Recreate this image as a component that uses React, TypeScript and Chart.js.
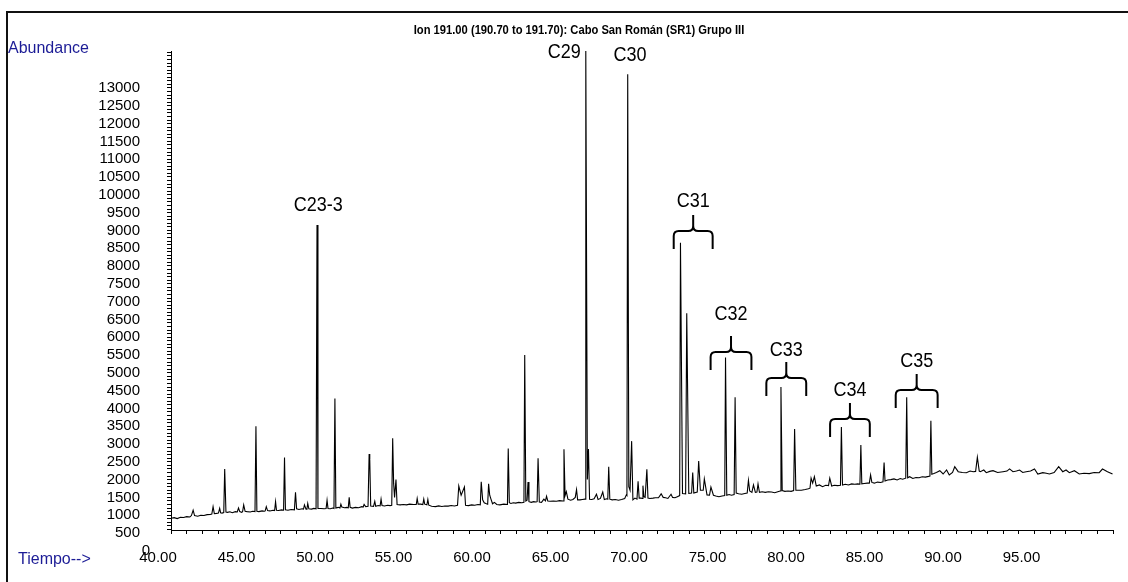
import { useEffect, useRef } from 'react';
import { Chart, registerables } from 'chart.js';

Chart.register(...registerables);

const TITLE = 'Ion 191.00 (190.70 to 191.70): Cabo San Román (SR1) Grupo III';

// Retention time (min) / abundance, in four segments
const segATimes = [40.00, 40.20, 40.40, 40.60, 40.80, 41.00, 41.20, 41.30, 41.41, 41.50, 41.70, 41.90, 42.10, 42.30, 42.50, 42.60, 42.68, 42.76, 42.90, 43.02, 43.10, 43.16, 43.25, 43.36, 43.42, 43.50, 43.60, 43.75, 43.90, 44.10, 44.22, 44.30, 44.38, 44.50, 44.56, 44.63, 44.72, 44.85, 45.05, 45.20, 45.35, 45.41, 45.47, 45.60, 45.80, 45.95, 46.00, 46.07, 46.15, 46.30, 46.50, 46.60, 46.66, 46.72, 46.85, 47.05, 47.17, 47.23, 47.29, 47.45, 47.65, 47.86, 47.93, 48.00, 48.15, 48.35, 48.44, 48.50, 48.60, 48.66, 48.71, 48.78, 48.95, 49.10, 49.24, 49.30, 49.36, 49.55, 49.75, 49.88, 49.94, 50.00, 50.15, 50.30, 50.38, 50.44, 50.50, 50.65, 50.76, 50.82, 50.88, 51.05, 51.20, 51.29, 51.35, 51.41, 51.55, 51.75, 51.95, 52.15, 52.24, 52.30, 52.40, 52.55, 52.62, 52.66, 52.72, 52.90, 52.98, 53.04, 53.20, 53.32, 53.38, 53.44, 53.60, 53.80, 53.95, 54.06, 54.12, 54.18, 54.24, 54.33, 54.40, 54.60, 54.80, 55.00, 55.20, 55.45, 55.62, 55.68, 55.74, 55.90, 56.04, 56.10, 56.16, 56.30, 56.36, 56.42];
const segAValues = [913, 930, 905, 940, 935, 960, 950, 990, 1140, 990, 970, 1000, 990, 1015, 1020, 1030, 1240, 1045, 1050, 1060, 1190, 1070, 1060, 1075, 2300, 1090, 1080, 1095, 1070, 1100, 1090, 1200, 1100, 1080, 1100, 1290, 1110, 1100, 1090, 1110, 1100, 3500, 1110, 1100, 1120, 1110, 1120, 1240, 1130, 1120, 1140, 1130, 1380, 1140, 1130, 1150, 1140, 2620, 1150, 1140, 1160, 1150, 1640, 1180, 1160, 1180, 1170, 1290, 1170, 1180, 1330, 1180, 1170, 1190, 1180, 9150, 1190, 1190, 1180, 1190, 1420, 1190, 1180, 1200, 1190, 4280, 1200, 1220, 1200, 1310, 1230, 1210, 1220, 1210, 1500, 1220, 1200, 1220, 1210, 1240, 1230, 1300, 1240, 1250, 2720, 2560, 1260, 1250, 1390, 1250, 1270, 1260, 1450, 1270, 1260, 1280, 1270, 1280, 3160, 1900, 1500, 2000, 1300, 1290, 1300, 1290, 1310, 1300, 1300, 1470, 1310, 1310, 1300, 1450, 1310, 1290, 1440, 1280];

const segBTimes = [56.60, 56.85, 57.05, 57.25, 57.45, 57.65, 57.85, 58.05, 58.25, 58.33, 58.48, 58.69, 58.76, 58.95, 59.15, 59.35, 59.55, 59.70, 59.76, 59.85, 59.95, 60.05, 60.17, 60.23, 60.30, 60.38, 60.48, 60.60, 60.75, 60.95, 61.20, 61.43, 61.48, 61.55, 61.65, 61.80, 61.95, 62.15, 62.35, 62.48, 62.53, 62.60, 62.68, 62.74, 62.80, 62.95, 63.10, 63.25, 63.32, 63.38, 63.46, 63.60, 63.75, 63.85, 63.92, 64.00, 64.15, 64.35, 64.55, 64.75, 64.97, 65.03, 65.10, 65.18, 65.28, 65.45, 65.60, 65.75, 65.83, 65.90, 66.05, 66.20, 66.37, 66.42, 66.52, 66.59, 66.66, 66.80, 66.95, 67.10, 67.20, 67.35, 67.50, 67.60, 67.75, 67.82, 67.88, 67.95, 68.10, 68.30, 68.50, 68.70, 68.90, 69.00, 69.04, 69.09, 69.16, 69.24, 69.34, 69.42, 69.55, 69.68, 69.75, 69.82, 69.95, 70.00, 70.06, 70.12, 70.20, 70.25, 70.31, 70.38, 70.50, 70.70, 70.85, 71.05, 71.22, 71.35, 71.50, 71.65, 71.85, 71.95];
const segBValues = [1250, 1240, 1260, 1245, 1260, 1255, 1270, 1260, 1275, 1820, 1560, 1790, 1280, 1270, 1290, 1280, 1300, 1290, 1940, 1430, 1350, 1330, 1310, 1880, 1560, 1450, 1320, 1360, 1300, 1290, 1310, 1300, 2870, 1350, 1330, 1350, 1340, 1360, 1350, 1360, 5500, 1400, 1420, 1930, 1380, 1360, 1380, 1370, 1380, 2600, 1370, 1360, 1450, 1400, 1530, 1400, 1390, 1400, 1390, 1410, 1400, 2850, 1550, 1660, 1450, 1420, 1440, 1500, 1720, 1430, 1430, 1440, 1450, 14050, 2000, 2860, 1450, 1440, 1460, 1590, 1440, 1470, 1650, 1440, 1460, 1450, 2360, 1450, 1430, 1440, 1420, 1440, 1470, 1570, 1550, 13385, 1800, 1700, 3080, 1430, 1480, 1450, 1950, 1480, 1480, 1470, 1830, 1520, 1500, 1500, 2290, 1480, 1470, 1480, 1490, 1490, 1600, 1500, 1490, 1470, 1590, 1500];

const segCTimes = [72.10, 72.25, 72.40, 72.45, 72.58, 72.78, 72.85, 72.98, 73.16, 73.23, 73.30, 73.52, 73.61, 73.72, 73.90, 73.97, 74.14, 74.30, 74.39, 74.55, 74.70, 74.90, 75.10, 75.27, 75.32, 75.40, 75.55, 75.70, 75.87, 75.93, 76.00, 76.15, 76.35, 76.55, 76.70, 76.78, 76.86, 77.00, 77.10, 77.22, 77.32, 77.39, 77.48, 77.65, 77.85, 78.05, 78.25, 78.45, 78.65, 78.80, 78.85, 78.93, 79.10, 79.30, 79.50, 79.66, 79.72, 79.80, 79.95, 80.15, 80.40, 80.60, 80.70, 80.77, 80.87, 80.98, 81.10, 81.30, 81.50, 81.70, 81.88, 81.96, 82.08, 82.25, 82.45, 82.64, 82.70, 82.77, 82.95, 83.15, 83.35, 83.55, 83.75, 83.88, 83.94, 84.00, 84.15, 84.35, 84.48, 84.56, 84.64, 84.80, 85.00, 85.20, 85.35, 85.42, 85.48];
const segCValues = [1490, 1520, 1550, 8650, 1610, 1600, 6670, 1610, 1620, 2200, 1620, 1650, 2520, 1700, 1700, 2020, 1570, 1560, 1790, 1560, 1540, 1520, 1540, 1550, 5430, 1560, 1580, 1560, 1580, 4310, 1620, 1600, 1590, 1610, 1620, 1980, 1680, 1640, 1850, 1640, 1650, 1880, 1640, 1660, 1640, 1660, 1650, 1630, 1660, 1680, 4600, 1690, 1670, 1680, 1670, 1690, 3420, 1700, 1700, 1700, 1720, 1740, 1760, 2040, 1900, 2080, 1820, 1850, 1800, 1840, 1830, 2040, 1820, 1840, 1830, 1840, 3480, 1850, 1870, 1850, 1880, 1870, 1880, 1870, 2970, 1880, 1890, 1900, 1900, 2130, 1920, 1900, 1930, 1920, 1940, 2480, 1960];

const segDTimes = [85.65, 85.85, 86.05, 86.25, 86.45, 86.60, 86.80, 86.86, 86.92, 87.05, 87.25, 87.45, 87.65, 87.85, 88.05, 88.25, 88.34, 88.40, 88.46, 88.59, 88.75, 88.97, 89.18, 89.40, 89.57, 89.78, 89.92, 90.14, 90.40, 90.66, 90.90, 91.09, 91.25, 91.36, 91.48, 91.55, 91.77, 91.93, 92.15, 92.36, 92.65, 92.99, 93.25, 93.41, 93.63, 93.85, 94.05, 94.25, 94.47, 94.75, 95.00, 95.21, 95.53, 95.75, 95.95, 96.25, 96.54, 96.80, 97.01, 97.22, 97.54, 97.85, 98.15, 98.49, 98.80, 99.12, 99.33, 99.65, 99.97];
const segDValues = [1990, 2000, 2020, 1990, 2030, 2010, 2040, 4310, 2050, 2080, 2030, 2060, 2050, 2080, 2070, 2090, 2100, 3650, 2150, 2170, 2200, 2250, 2157, 2269, 2129, 2200, 2362, 2222, 2200, 2194, 2240, 2222, 2230, 2627, 2240, 2222, 2269, 2194, 2230, 2250, 2200, 2222, 2240, 2300, 2222, 2240, 2269, 2200, 2222, 2240, 2297, 2157, 2194, 2180, 2157, 2200, 2362, 2222, 2269, 2194, 2250, 2157, 2180, 2169, 2200, 2194, 2297, 2222, 2157];

// Peak labels
const peakLabels = ['C23-3', 'C29', 'C30'];
const peakLabelTimes = [49.38, 65.05, 69.23];
const peakLabelValues = [9713, 14010, 13899];

// Braced groups
const braceLabels = ['C31', 'C32', 'C33', 'C34', 'C35'];
const braceStarts = [72.02, 74.37, 77.92, 81.98, 86.16];
const braceEnds = [74.50, 76.97, 80.46, 84.51, 88.83];
const braceValues = [8983, 5584, 4854, 3702, 4517];
const braceLabelValues = [9798, 6624, 5640, 4494, 5315];

// Axes
const xMin = 40;
const xMax = 100;
const xLabelledTicks = [40, 45, 50, 55, 60, 65, 70, 75, 80, 85, 90, 95];
const yMin = 584;
const yMax = 14039;
const yLabelledTicks = [500, 1000, 1500, 2000, 2500, 3000, 3500, 4000, 4500, 5000, 5500, 6000, 6500, 7000, 7500, 8000, 8500, 9000, 9500, 10000, 10500, 11000, 11500, 12000, 12500, 13000];
const yZeroLabel = '0';

const FONT = '"Liberation Sans", Arial, Helvetica, sans-serif';

function drawNarrow(ctx: CanvasRenderingContext2D, text: string, x: number, y: number, font: string, sx: number) {
  ctx.save();
  ctx.font = font;
  ctx.translate(x, y);
  ctx.scale(sx, 1);
  ctx.textAlign = 'center';
  ctx.textBaseline = 'middle';
  ctx.fillText(text, 0, 0);
  ctx.restore();
}

function drawBrace(ctx: CanvasRenderingContext2D, xl: number, xr: number, yh: number) {
  const xc = (xl + xr) / 2;
  const drop = 18;
  const tip = 16;
  const r = 5;
  ctx.beginPath();
  ctx.moveTo(xl, yh + drop);
  ctx.lineTo(xl, yh + r);
  ctx.quadraticCurveTo(xl, yh, xl + r, yh);
  ctx.lineTo(xc - r, yh);
  ctx.quadraticCurveTo(xc, yh, xc, yh - r);
  ctx.lineTo(xc, yh - tip);
  ctx.moveTo(xc, yh - r);
  ctx.quadraticCurveTo(xc, yh, xc + r, yh);
  ctx.lineTo(xr - r, yh);
  ctx.quadraticCurveTo(xr, yh, xr, yh + r);
  ctx.lineTo(xr, yh + drop);
  ctx.stroke();
}

const annotate = {
  id: 'annotate',
  beforeDraw(chart: any) {
    const ctx = chart.ctx as CanvasRenderingContext2D;
    ctx.save();
    ctx.fillStyle = '#fff';
    ctx.fillRect(0, 0, chart.width, chart.height);
    ctx.strokeStyle = '#111';
    ctx.lineWidth = 2;
    ctx.beginPath();
    ctx.moveTo(7, chart.height);
    ctx.lineTo(7, 12);
    ctx.lineTo(chart.width, 12);
    ctx.stroke();
    ctx.restore();
  },
  afterDraw(chart: any) {
    const ctx = chart.ctx as CanvasRenderingContext2D;
    const x = chart.scales.x;
    const y = chart.scales.y;
    ctx.save();
    ctx.fillStyle = '#000';
    drawNarrow(ctx, TITLE, 579, 30, `bold 13px ${FONT}`, 0.86);

    // zero label of the abundance axis (sits below the time axis)
    ctx.font = `15px ${FONT}`;
    ctx.textAlign = 'center';
    ctx.textBaseline = 'middle';
    ctx.fillText(yZeroLabel, 146, y.getPixelForValue(0));

    ctx.fillStyle = '#1c1c96';
    ctx.font = `16px ${FONT}`;
    ctx.textAlign = 'left';
    ctx.textBaseline = 'alphabetic';
    ctx.fillText('Abundance', 8, 53);
    ctx.fillText('Tiempo-->', 18, 564);

    ctx.fillStyle = '#000';
    peakLabels.forEach((lab, i) => {
      drawNarrow(ctx, lab, x.getPixelForValue(peakLabelTimes[i]), y.getPixelForValue(peakLabelValues[i]), `20px ${FONT}`, 0.9);
    });

    ctx.strokeStyle = '#000';
    ctx.lineWidth = 2;
    braceLabels.forEach((lab, i) => {
      const xl = x.getPixelForValue(braceStarts[i]);
      const xr = x.getPixelForValue(braceEnds[i]);
      drawBrace(ctx, xl, xr, y.getPixelForValue(braceValues[i]));
      drawNarrow(ctx, lab, (xl + xr) / 2, y.getPixelForValue(braceLabelValues[i]), `20px ${FONT}`, 0.9);
    });
    ctx.restore();
  },
};

export default function App() {
  const ref = useRef<HTMLCanvasElement>(null);
  useEffect(() => {
    const times = [...segATimes, ...segBTimes, ...segCTimes, ...segDTimes];
    const values = [...segAValues, ...segBValues, ...segCValues, ...segDValues];
    const points = times.map((t, i) => ({ x: t, y: values[i] }));

    const xTicks: number[] = [];
    for (let v = xMin; v <= xMax; v += 1) xTicks.push(v);
    const yTicks: number[] = [500];
    for (let v = 600; v <= 14000; v += 100) yTicks.push(v);

    const chart = new Chart(ref.current as HTMLCanvasElement, {
      type: 'line',
      data: {
        datasets: [
          {
            data: points,
            borderColor: '#000',
            borderWidth: 1.1,
            pointRadius: 0,
            tension: 0,
            fill: false,
          },
        ],
      },
      options: {
        responsive: false,
        animation: false,
        devicePixelRatio: 1,
        layout: { padding: { left: 0, right: 11, top: 51, bottom: 0 } },
        plugins: {
          legend: { display: false },
          tooltip: { enabled: false },
          title: { display: false },
        },
        scales: {
          x: {
            type: 'linear',
            min: xMin,
            max: xMax,
            bounds: 'data',
            afterFit: (s: any) => {
              s.height = 52;
            },
            afterBuildTicks: (s: any) => {
              s.ticks = xTicks.map((v) => ({ value: v }));
            },
            grid: { drawOnChartArea: false, drawTicks: true, tickLength: 4, color: '#000', tickColor: '#000' },
            border: { display: true, color: '#000', width: 1 },
            ticks: {
              autoSkip: false,
              maxRotation: 0,
              minRotation: 0,
              labelOffset: -13,
              padding: 15,
              color: '#000',
              font: { family: FONT, size: 15 },
              callback: (v: any) => (xLabelledTicks.includes(Number(v)) ? Number(v).toFixed(2) : ''),
            },
          },
          y: {
            type: 'linear',
            min: yMin,
            max: yMax,
            bounds: 'data',
            afterFit: (s: any) => {
              s.width = 171;
            },
            afterBuildTicks: (s: any) => {
              s.ticks = yTicks.map((v) => ({ value: v }));
            },
            grid: {
              drawOnChartArea: false,
              drawTicks: true,
              tickLength: 4,
              color: '#000',
              tickColor: (c: any) => (c.tick && c.tick.value < yMin ? 'rgba(0,0,0,0)' : '#000'),
            },
            border: { display: true, color: '#000', width: 1 },
            ticks: {
              autoSkip: false,
              padding: 27,
              color: '#000',
              font: { family: FONT, size: 15 },
              callback: (v: any) => (yLabelledTicks.includes(Number(v)) ? String(v) : ''),
            },
          },
        },
      },
      plugins: [annotate],
    });
    return () => chart.destroy();
  }, []);

  return (
    <div style={{ position: 'fixed', left: 0, top: 0, width: 1128, height: 582, background: '#fff' }}>
      <canvas ref={ref} width={1128} height={582} style={{ display: 'block' }} />
    </div>
  );
}
